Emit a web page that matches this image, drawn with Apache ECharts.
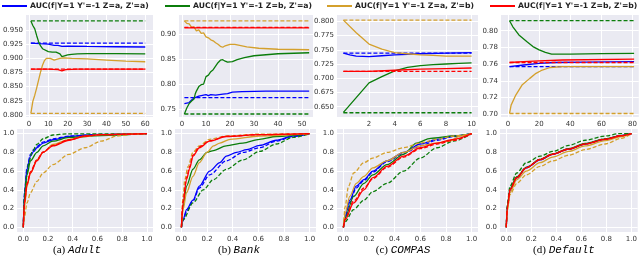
<!DOCTYPE html>
<html><head><meta charset="utf-8">
<script src="https://cdn.jsdelivr.net/npm/echarts@6/dist/echarts.min.js"></script>
<style>html,body{margin:0;padding:0;background:#fff}#c{width:640px;height:261px}</style>
</head><body><div id="c"></div>
<script>
// ---------- text ----------
const legendNames = ["AUC(f|Y=1 Y'=-1 Z=a, Z'=a)", "AUC(f|Y=1 Y'=-1 Z=b, Z'=a)", "AUC(f|Y=1 Y'=-1 Z=a, Z'=b)", "AUC(f|Y=1 Y'=-1 Z=b, Z'=b)"];
const captionTags = ['(a) ', '(b) ', '(c) ', '(d) '];
const captionNames = ['Adult', 'Bank', 'COMPAS', 'Default'];

// ---------- tick labels ----------
const adultTopXTicks = [0, 10, 20, 30, 40, 50, 60];
const adultTopYTicks = [0.800, 0.825, 0.850, 0.875, 0.900, 0.925, 0.950];
const bankTopXTicks = [0, 10, 20, 30, 40, 50];
const bankTopYTicks = [0.75, 0.80, 0.85, 0.90];
const compasTopXTicks = [2, 4, 6, 8, 10];
const compasTopYTicks = [0.650, 0.675, 0.700, 0.725, 0.750, 0.775, 0.800];
const defaultTopXTicks = [0, 20, 40, 60, 80];
const defaultTopYTicks = [0.70, 0.72, 0.74, 0.76, 0.78, 0.80];
const bottomTicks = [0.0, 0.2, 0.4, 0.6, 0.8, 1.0];

// ---------- top row: convergence curves (solid) and reference values (dashed) ----------
const adultBlue = [[1,0.927],[5,0.926],[10,0.925],[13,0.923],[15,0.923],[17,0.921],[20,0.9215],[30,0.921],[45,0.9205],[60,0.920]];
const adultGreen = [[1,0.966],[2,0.958],[3,0.952],[4,0.940],[5,0.929],[6,0.922],[7,0.917],[8,0.914],[10,0.912],[12,0.911],[14,0.911],[16,0.908],[17,0.903],[18,0.904],[20,0.906],[22,0.907],[25,0.908],[30,0.9085],[45,0.9085],[60,0.908]];
const adultGold = [[1,0.803],[2,0.824],[3,0.835],[4,0.848],[5,0.862],[6,0.876],[7,0.888],[8,0.896],[9,0.900],[10,0.901],[11,0.900],[12,0.897],[13,0.897],[14,0.899],[16,0.900],[18,0.901],[22,0.900],[30,0.899],[40,0.897],[50,0.895],[60,0.894]];
const adultRed = [[1,0.881],[10,0.881],[15,0.880],[17,0.878],[19,0.880],[25,0.881],[60,0.881]];
const adultRefs = [0.927, 0.966, 0.803, 0.881];

const bankBlue = [[1,0.761],[3,0.763],[4,0.768],[5,0.772],[7,0.776],[9,0.778],[10,0.779],[11,0.777],[12,0.779],[14,0.778],[17,0.780],[19,0.781],[21,0.784],[25,0.785],[35,0.786],[53,0.786]];
const bankGreen = [[1,0.740],[2,0.752],[3,0.761],[4,0.766],[5,0.770],[5.5,0.780],[6,0.786],[6.5,0.782],[7,0.795],[8,0.799],[9,0.800],[10,0.815],[11,0.818],[12,0.825],[13,0.829],[14,0.836],[15,0.843],[16,0.848],[17,0.849],[18,0.846],[19,0.844],[21,0.845],[23,0.849],[26,0.853],[30,0.857],[35,0.859],[40,0.861],[53,0.863]];
const bankGold = [[1,0.927],[2,0.922],[3,0.921],[4,0.914],[5,0.915],[6,0.907],[7,0.909],[8,0.902],[9,0.903],[10,0.895],[11,0.893],[12,0.889],[13,0.887],[14,0.883],[15,0.880],[16,0.876],[17,0.874],[18,0.877],[20,0.880],[22,0.880],[24,0.878],[27,0.875],[32,0.872],[40,0.870],[53,0.869]];
const bankRed = [[1,0.913],[20,0.913],[53,0.913]];
const bankRefs = [0.773, 0.740, 0.927, 0.914];

const compasBlue = [[0,0.744],[0.5,0.741],[1,0.739],[2,0.738],[3,0.7395],[4,0.741],[5,0.742],[6,0.743],[8,0.744],[10,0.745]];
const compasGreen = [[0,0.640],[1,0.666],[2,0.692],[3,0.703],[4,0.713],[5,0.719],[6,0.722],[7,0.724],[8,0.725],[9,0.726],[10,0.727]];
const compasGold = [[0,0.802],[1,0.780],[2,0.760],[3,0.751],[4,0.745],[5,0.743],[6,0.741],[7,0.740],[8,0.739],[10,0.739]];
const compasRed = [[0,0.712],[2,0.712],[4,0.714],[6,0.716],[8,0.717],[10,0.718]];
const compasRefs = [0.744, 0.6395, 0.802, 0.712];

const defaultBlue = [[1,0.757],[10,0.759],[20,0.761],[30,0.762],[50,0.7625],[81,0.763]];
const defaultGreen = [[1,0.812],[3,0.805],[7,0.795],[12,0.787],[16,0.781],[20,0.777],[24,0.774],[28,0.772],[40,0.772],[60,0.7725],[81,0.773]];
const defaultGold = [[1,0.701],[2,0.711],[5,0.723],[9,0.735],[14,0.743],[18,0.749],[22,0.753],[27,0.756],[35,0.757],[81,0.757]];
const defaultRed = [[1,0.762],[10,0.763],[20,0.764],[35,0.765],[81,0.766]];
const defaultRefs = [0.757, 0.812, 0.701, 0.762];

// ---------- bottom row: cumulative curves (solid = learned, dashed = reference) ----------
const aBlue = [[0,0],[0.01,0.37],[0.03,0.62],[0.058,0.76],[0.084,0.81],[0.11,0.85],[0.16,0.90],[0.24,0.935],[0.37,0.97],[0.5,0.985],[0.63,0.99],[1,1]];
const aBlueD = [[0,0],[0.01,0.38],[0.03,0.64],[0.058,0.78],[0.084,0.83],[0.11,0.865],[0.16,0.91],[0.24,0.945],[0.37,0.975],[0.63,0.993],[1,1]];
const aGreen = [[0,0],[0.01,0.33],[0.03,0.56],[0.058,0.71],[0.11,0.80],[0.16,0.87],[0.24,0.92],[0.37,0.96],[0.63,0.98],[1,1]];
const aGreenD = [[0,0],[0.01,0.33],[0.026,0.545],[0.045,0.69],[0.07,0.80],[0.11,0.885],[0.16,0.946],[0.24,0.986],[0.35,0.997],[1,1]];
const aGold = [[0,0],[0.01,0.22],[0.03,0.44],[0.058,0.58],[0.11,0.72],[0.16,0.80],[0.24,0.885],[0.37,0.94],[0.5,0.97],[0.63,0.99],[1,1]];
const aGoldD = [[0,0],[0.01,0.115],[0.03,0.26],[0.058,0.37],[0.11,0.49],[0.16,0.58],[0.24,0.67],[0.37,0.78],[0.5,0.85],[0.63,0.92],[0.76,0.975],[0.89,0.995],[1,1]];
const aRed = [[0,0],[0.01,0.26],[0.03,0.455],[0.058,0.58],[0.11,0.71],[0.16,0.80],[0.24,0.87],[0.37,0.93],[0.5,0.975],[0.63,0.99],[1,1]];
const aRedD = [[0,0],[0.01,0.27],[0.03,0.47],[0.058,0.595],[0.11,0.72],[0.16,0.805],[0.24,0.875],[0.37,0.935],[0.5,0.975],[0.63,0.99],[1,1]];

const bBlue = [[0,0],[0.013,0.08],[0.04,0.19],[0.09,0.29],[0.14,0.44],[0.22,0.60],[0.3,0.69],[0.35,0.76],[0.43,0.80],[0.51,0.83],[0.61,0.875],[0.74,0.93],[0.87,0.975],[1,1]];
const bBlueD = [[0,0],[0.013,0.07],[0.04,0.17],[0.09,0.28],[0.14,0.42],[0.22,0.56],[0.35,0.71],[0.48,0.80],[0.61,0.85],[0.74,0.92],[0.87,0.97],[1,1]];
const bGreen = [[0,0],[0.013,0.22],[0.04,0.44],[0.09,0.62],[0.14,0.72],[0.2,0.80],[0.25,0.82],[0.35,0.87],[0.48,0.90],[0.61,0.94],[0.74,0.97],[1,1]];
const bGreenD = [[0,0],[0.013,0.08],[0.09,0.26],[0.17,0.40],[0.25,0.51],[0.35,0.62],[0.48,0.72],[0.61,0.81],[0.74,0.89],[0.87,0.96],[1,1]];
const bGold = [[0,0],[0.013,0.19],[0.04,0.37],[0.09,0.545],[0.14,0.69],[0.2,0.80],[0.25,0.87],[0.3,0.90],[0.38,0.94],[0.61,0.975],[1,1]];
const bGoldD = [[0,0],[0.013,0.33],[0.026,0.51],[0.052,0.65],[0.09,0.80],[0.14,0.87],[0.22,0.94],[0.35,0.975],[0.61,0.995],[1,1]];
const bRed = [[0,0],[0.013,0.26],[0.04,0.51],[0.065,0.63],[0.09,0.76],[0.14,0.85],[0.22,0.92],[0.35,0.97],[0.61,0.99],[1,1]];
const bRedD = [[0,0],[0.013,0.28],[0.04,0.53],[0.065,0.65],[0.09,0.77],[0.14,0.86],[0.22,0.925],[0.35,0.972],[0.61,0.99],[1,1]];

const cBlue = [[0,0],[0.013,0.115],[0.05,0.29],[0.1,0.44],[0.16,0.51],[0.23,0.60],[0.34,0.71],[0.47,0.80],[0.6,0.89],[0.73,0.94],[0.86,0.975],[1,1]];
const cBlueD = [[0,0],[0.013,0.10],[0.05,0.27],[0.1,0.42],[0.16,0.50],[0.23,0.59],[0.34,0.70],[0.47,0.79],[0.6,0.87],[0.73,0.93],[0.86,0.97],[1,1]];
const cGreen = [[0,0],[0.013,0.10],[0.08,0.33],[0.16,0.47],[0.23,0.56],[0.34,0.67],[0.47,0.78],[0.57,0.90],[0.68,0.95],[0.86,0.975],[1,1]];
const cGreenD = [[0,0],[0.013,0.06],[0.08,0.19],[0.16,0.29],[0.23,0.38],[0.34,0.47],[0.47,0.60],[0.6,0.74],[0.73,0.85],[0.86,0.92],[1,1]];
const cGold = [[0,0],[0.013,0.15],[0.05,0.33],[0.1,0.47],[0.16,0.545],[0.23,0.635],[0.34,0.71],[0.47,0.80],[0.6,0.87],[0.73,0.90],[0.83,0.92],[0.91,0.975],[1,1]];
const cGoldD = [[0,0],[0.013,0.22],[0.04,0.44],[0.08,0.58],[0.16,0.69],[0.23,0.74],[0.34,0.80],[0.47,0.85],[0.6,0.90],[0.73,0.94],[0.86,0.975],[1,1]];
const cRed = [[0,0],[0.013,0.08],[0.08,0.26],[0.16,0.40],[0.23,0.53],[0.34,0.65],[0.47,0.76],[0.6,0.85],[0.73,0.90],[0.86,0.94],[1,1]];
const cRedD = [[0,0],[0.013,0.09],[0.08,0.28],[0.16,0.42],[0.23,0.52],[0.34,0.64],[0.47,0.75],[0.6,0.84],[0.73,0.89],[0.86,0.93],[1,1]];

const dBlue = [[0,0],[0.01,0.22],[0.03,0.40],[0.084,0.53],[0.16,0.635],[0.27,0.72],[0.37,0.78],[0.5,0.835],[0.63,0.89],[0.79,0.94],[0.92,0.98],[1,1]];
const dBlueD = [[0,0],[0.01,0.23],[0.03,0.41],[0.084,0.535],[0.16,0.64],[0.27,0.725],[0.37,0.782],[0.5,0.838],[0.63,0.892],[0.79,0.942],[0.92,0.98],[1,1]];
const dGreen = [[0,0],[0.01,0.24],[0.03,0.41],[0.084,0.54],[0.16,0.64],[0.27,0.725],[0.37,0.785],[0.5,0.84],[0.63,0.895],[0.79,0.945],[0.92,0.98],[1,1]];
const dGreenD = [[0,0],[0.01,0.26],[0.03,0.44],[0.084,0.58],[0.16,0.69],[0.27,0.76],[0.37,0.81],[0.5,0.875],[0.63,0.93],[0.79,0.975],[0.9,1.0],[1,1]];
const dGold = [[0,0],[0.01,0.20],[0.03,0.37],[0.084,0.51],[0.16,0.60],[0.27,0.69],[0.37,0.75],[0.5,0.81],[0.63,0.87],[0.79,0.925],[0.92,0.97],[1,1]];
const dGoldD = [[0,0],[0.01,0.19],[0.03,0.35],[0.084,0.47],[0.16,0.56],[0.27,0.65],[0.37,0.71],[0.5,0.77],[0.63,0.83],[0.79,0.89],[0.92,0.95],[1,1]];
const dRed = [[0,0],[0.01,0.22],[0.03,0.40],[0.084,0.53],[0.16,0.635],[0.27,0.722],[0.37,0.78],[0.5,0.835],[0.63,0.888],[0.79,0.94],[0.92,0.978],[1,1]];
const dRedD = [[0,0],[0.01,0.225],[0.03,0.405],[0.084,0.535],[0.16,0.638],[0.27,0.725],[0.37,0.783],[0.5,0.838],[0.63,0.89],[0.79,0.942],[0.92,0.98],[1,1]];

// ---------- styling / layout ----------
const COLORS = ['#0000ff', '#0b7d0b', '#d4a02c', '#ff0000'];
const FONT = 'DejaVu Sans';
const legendLeft = [2, 165, 327, 490];
const topGrids = [
  {left: 22, top: 15, width: 131, height: 102},
  {left: 179, top: 15, width: 134, height: 102},
  {left: 337, top: 15, width: 141, height: 102},
  {left: 501, top: 15, width: 139, height: 102}
];
const botGrids = [
  {left: 13, top: 129, width: 140, height: 103},
  {left: 175, top: 129, width: 141, height: 103},
  {left: 337, top: 129, width: 141, height: 103},
  {left: 500, top: 129, width: 140, height: 103}
];
const topX = [
  {min: -1.5, max: 64, ticks: adultTopXTicks, dec: 0},
  {min: -1.25, max: 54.6, ticks: bankTopXTicks, dec: 0},
  {min: -0.5, max: 10.5, ticks: compasTopXTicks, dec: 0},
  {min: -4.5, max: 84, ticks: defaultTopXTicks, dec: 0}
];
const topY = [
  {min: 0.7965, max: 0.9765, ticks: adultTopYTicks, dec: 3},
  {min: 0.734, max: 0.9388, ticks: bankTopYTicks, dec: 2},
  {min: 0.632, max: 0.811, ticks: compasTopYTicks, dec: 3},
  {min: 0.6968, max: 0.8188, ticks: defaultTopYTicks, dec: 2}
];
const topSolid = [
  [adultBlue, adultGreen, adultGold, adultRed],
  [bankBlue, bankGreen, bankGold, bankRed],
  [compasBlue, compasGreen, compasGold, compasRed],
  [defaultBlue, defaultGreen, defaultGold, defaultRed]
];
const topRefs = [adultRefs, bankRefs, compasRefs, defaultRefs];
const botSolid = [
  [aBlue, aGreen, aGold, aRed],
  [bBlue, bGreen, bGold, bRed],
  [cBlue, cGreen, cGold, cRed],
  [dBlue, dGreen, dGold, dRed]
];
const botDashed = [
  [aBlueD, aGreenD, aGoldD, aRedD],
  [bBlueD, bGreenD, bGoldD, bRedD],
  [cBlueD, cGreenD, cGoldD, cRedD],
  [dBlueD, dGreenD, dGoldD, dRedD]
];
const captionX = [77, 239, 403, 564];

function mkAxis(gi, cfg, isX) {
  return {
    type: 'value', gridIndex: gi, min: cfg.min, max: cfg.max,
    axisLine: {show: false},
    axisTick: {show: false, customValues: cfg.ticks},
    axisLabel: {customValues: cfg.ticks, formatter: v => Number(v).toFixed(cfg.dec),
      fontSize: 7, color: '#333', fontFamily: FONT, margin: isX ? 4 : 3},
    splitLine: {show: true, lineStyle: {color: '#ffffff', width: 1}}
  };
}

const grid = [], xAxis = [], yAxis = [], series = [];
const gridStyle = {show: true, backgroundColor: '#eaeaf2', borderWidth: 0, containLabel: false};
topGrids.forEach((g, i) => {
  grid.push(Object.assign({}, gridStyle, g));
  xAxis.push(mkAxis(i, topX[i], true));
  yAxis.push(mkAxis(i, topY[i], false));
});
botGrids.forEach((g, i) => {
  grid.push(Object.assign({}, gridStyle, g));
  xAxis.push(mkAxis(4 + i, {min: -0.05, max: 1.05, ticks: bottomTicks, dec: 1}, true));
  yAxis.push(mkAxis(4 + i, {min: -0.05, max: 1.05, ticks: bottomTicks, dec: 1}, false));
});

const LW = 1.3;
for (let p = 0; p < 4; p++) {
  for (let k = 0; k < 4; k++) {
    const d = topSolid[p][k];
    series.push({type: 'line', name: legendNames[k], xAxisIndex: p, yAxisIndex: p, data: d,
      symbol: 'none', lineStyle: {color: COLORS[k], width: LW}, itemStyle: {color: COLORS[k]}, z: 3});
    const ref = topRefs[p][k];
    series.push({type: 'line', name: 'ref' + k, xAxisIndex: p, yAxisIndex: p,
      data: [[d[0][0], ref], [d[d.length - 1][0], ref]],
      symbol: 'none', lineStyle: {color: COLORS[k], width: LW, type: [4, 2]}, z: 3});
  }
  for (let k = 0; k < 4; k++) {
    series.push({type: 'line', name: 'refb' + k, xAxisIndex: 4 + p, yAxisIndex: 4 + p, data: botDashed[p][k],
      symbol: 'none', smooth: 0.3, smoothMonotone: 'x',
      lineStyle: {color: COLORS[k], width: LW, type: [4, 2]}, z: 3});
    series.push({type: 'line', name: legendNames[k], xAxisIndex: 4 + p, yAxisIndex: 4 + p, data: botSolid[p][k],
      symbol: 'none', smooth: 0.3, smoothMonotone: 'x',
      lineStyle: {color: COLORS[k], width: LW}, itemStyle: {color: COLORS[k]}, z: 3});
  }
}

const graphic = captionNames.map((n, i) => ({
  type: 'text', x: captionX[i], y: 250,
  style: {text: '{p|' + captionTags[i] + '}{m|' + n + '}', align: 'center', verticalAlign: 'middle',
    rich: {p: {fontFamily: 'Liberation Serif', fontSize: 11, fill: '#000'},
           m: {fontFamily: 'Liberation Mono', fontStyle: 'italic', fontSize: 11, fill: '#000'}}}
}));

const legend = legendNames.map((n, i) => ({
  data: [{name: n, icon: 'rect'}],
  left: legendLeft[i], top: 2, itemWidth: 25, itemHeight: 2, padding: 0,
  textStyle: {fontFamily: FONT, fontWeight: 'bold', fontSize: 7.7, color: '#222', padding: [0, 0, 0, -2]},
  selectedMode: false
}));

const option = {
  animation: false,
  backgroundColor: '#ffffff',
  legend,
  grid, xAxis, yAxis, series, graphic
};
echarts.init(document.getElementById('c'), null, {renderer: 'canvas'}).setOption(option);
</script></body></html>
